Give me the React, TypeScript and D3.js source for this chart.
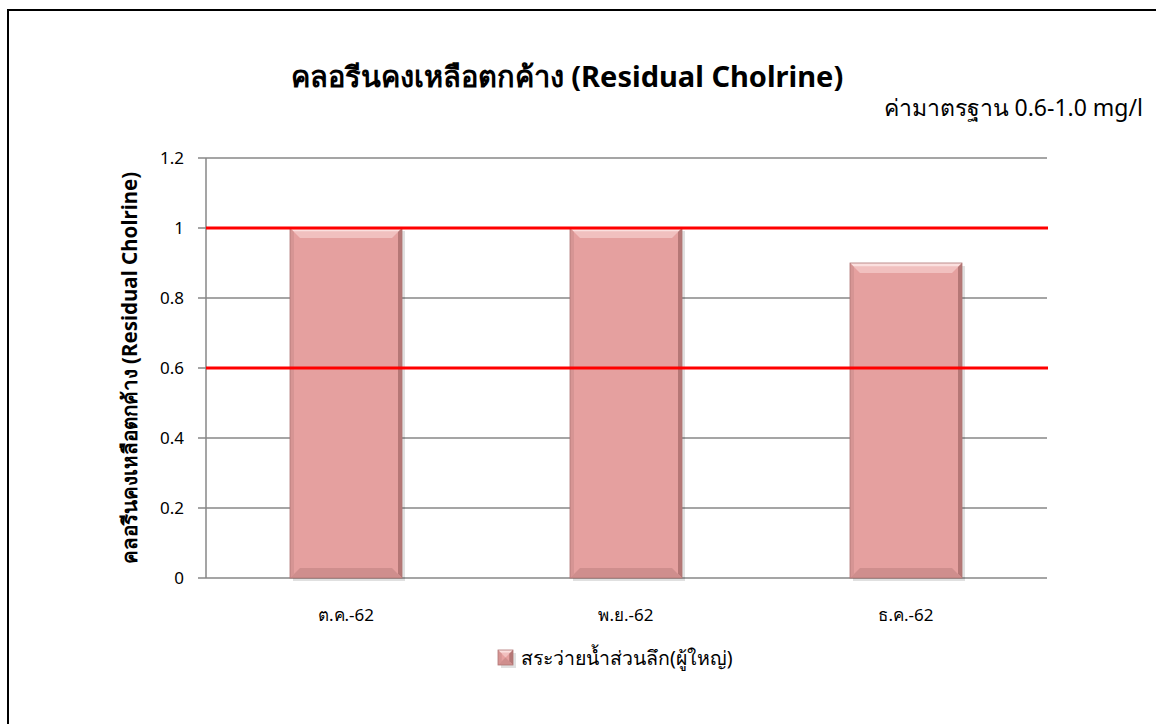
import React from 'react';
import * as d3 from 'd3';

const categories = ['ต.ค.-62', 'พ.ย.-62', 'ธ.ค.-62'];
const values = [1.0, 1.0, 0.9];
const yTicks = [0, 0.2, 0.4, 0.6, 0.8, 1, 1.2];
const standardLines = [0.6, 1.0];
const seriesName = 'สระว่ายน้ำส่วนลึก(ผู้ใหญ่)';

const W = 1156;
const H = 724;
const FONT = "Tahoma, 'Noto Sans', 'DejaVu Sans', sans-serif";

function Bar({ x, y, w, h }: { x: number; y: number; w: number; h: number }) {
  const b = Math.min(10, h / 2);
  const s = Math.min(4, h / 4);
  const x1 = x + w;
  const y1 = y + h;
  return (
    <g>
      <rect x={x + 3} y={y + 3} width={w} height={h} fill="#000" opacity={0.12} />
      <rect x={x} y={y} width={w} height={h} fill="#e5a09f" />
      {/* top bevel */}
      <polygon points={`${x},${y} ${x1},${y} ${x1 - b},${y + b} ${x + b},${y + b}`} fill="#f1c0bf" />
      <polygon points={`${x},${y} ${x1},${y} ${x1 - b / 3},${y + b / 3} ${x + b / 3},${y + b / 3}`} fill="#fbe0df" />
      {/* left bevel */}
      <polygon points={`${x},${y} ${x + s},${y + s} ${x + s},${y1 - s} ${x},${y1}`} fill="#d69594" />
      {/* right bevel */}
      <polygon points={`${x1},${y} ${x1 - s},${y + s} ${x1 - s},${y1 - s} ${x1},${y1}`} fill="#b57776" />
      {/* bottom bevel */}
      <polygon points={`${x},${y1} ${x1},${y1} ${x1 - b},${y1 - b} ${x + b},${y1 - b}`} fill="#cf8e8d" />
      <rect x={x} y={y} width={w} height={h} fill="none" stroke="#b07574" strokeWidth={0.8} />
    </g>
  );
}

export default function App() {
  const x = d3.scaleBand<string>().domain(categories).range([206, 1046]).paddingInner(0.6).paddingOuter(0.3);
  const y = d3.scaleLinear().domain([0, 1.2]).range([578, 158]);

  return (
    <svg width={W} height={H} style={{ position: 'absolute', left: 0, top: 0 }} fontFamily={FONT}>
      <rect x={0} y={0} width={W} height={H} fill="#fff" />
      <rect x={8} y={10} width={W + 20} height={H + 20} fill="none" stroke="#000" strokeWidth={2} />

      <text x={567} y={87} textAnchor="middle" fontSize={29} fontWeight="bold" fill="#000">
        คลอรีนคงเหลือตกค้าง (Residual Cholrine)
      </text>
      <text x={1143} y={116} textAnchor="end" fontSize={23} fill="#000">
        ค่ามาตรฐาน 0.6-1.0 mg/l
      </text>

      {/* grid */}
      {yTicks.map(t => (
        <g key={t}>
          <line x1={198} x2={1047} y1={y(t)} y2={y(t)} stroke="#878787" strokeWidth={1.5} />
          <text x={184} y={y(t) + 6} textAnchor="end" fontSize={17} fill="#000">{t}</text>
        </g>
      ))}
      <line x1={206} x2={206} y1={y(1.2)} y2={y(0)} stroke="#878787" strokeWidth={1.5} />

      {categories.map((c, i) => (
        <Bar key={c} x={x(c)!} y={y(values[i])} w={x.bandwidth()} h={y(0) - y(values[i])} />
      ))}

      {standardLines.map(v => (
        <line key={v} x1={206} x2={1048} y1={y(v)} y2={y(v)} stroke="#ff0000" strokeWidth={3} />
      ))}

      {categories.map(c => (
        <text key={c} x={x(c)! + x.bandwidth() / 2} y={621} textAnchor="middle" fontSize={17} fill="#000">{c}</text>
      ))}

      <text
        transform={`translate(137,${y(0.6)}) rotate(-90)`}
        textAnchor="middle"
        fontSize={20.5}
        fontWeight="bold"
        fill="#000"
      >
        คลอรีนคงเหลือตกค้าง (Residual Cholrine)
      </text>

      {/* legend */}
      <g>
        <Bar x={498} y={650} w={15} h={15} />
        <text x={521} y={665} fontSize={19.5} fill="#000">{seriesName}</text>
      </g>
    </svg>
  );
}
